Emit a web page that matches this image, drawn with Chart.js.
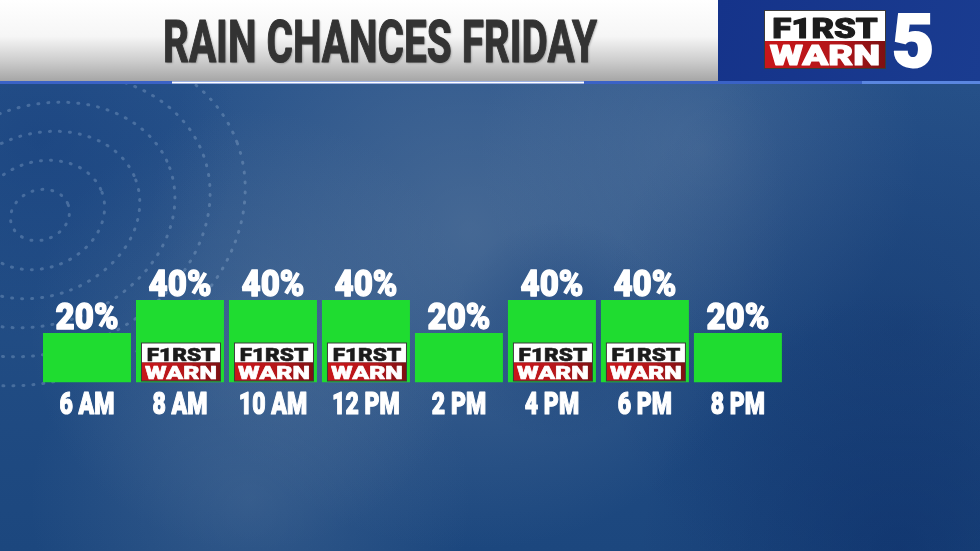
<!DOCTYPE html>
<html><head><meta charset="utf-8">
<script src="https://cdn.jsdelivr.net/npm/chart.js@4.4.0/dist/chart.umd.min.js"></script>
<style>html,body{margin:0;padding:0;background:#1e4d8c;overflow:hidden}#wrap{width:980px;height:551px;position:relative}canvas{display:block}</style>
</head><body><div id="wrap"><canvas id="c" width="980" height="551"></canvas></div>
<script>
// ---- data ----
const categories = ['6 AM', '8 AM', '10 AM', '12 PM', '2 PM', '4 PM', '6 PM', '8 PM'];
const rainChance = [20, 40, 40, 40, 20, 40, 40, 20];
const titleText = 'RAIN CHANCES FRIDAY';
const logoTop = 'F1RST';
const logoBottom = 'WARN';
const channelText = '5';
const logoMinValue = 40;

const FONT = '"Roboto", "DejaVu Sans", sans-serif';

function cText(ctx, txt, x, y, size, color, targetRef, refTxt, align, weight, stroke) {
  ctx.save();
  ctx.font = (weight || 'bold') + ' ' + size + 'px ' + FONT;
  const sx = targetRef ? targetRef / ctx.measureText(refTxt || txt).width : 1;
  ctx.translate(x, y);
  ctx.scale(sx, 1);
  ctx.textAlign = align || 'center';
  ctx.textBaseline = 'alphabetic';
  ctx.fillStyle = color;
  ctx.fillText(txt, 0, 0);
  if (stroke) {
    ctx.shadowColor = 'transparent';
    ctx.strokeStyle = color;
    ctx.lineWidth = stroke;
    ctx.lineJoin = 'round';
    ctx.strokeText(txt, 0, 0);
  }
  ctx.restore();
}

function drawLogo(ctx, x, y, w, h, big) {
  const hw = Math.round(h * 0.52);
  ctx.save();
  ctx.fillStyle = '#3a3a3a';
  ctx.fillRect(x - 1, y - 1, w + 2, h + 2);
  ctx.fillStyle = '#ffffff';
  ctx.fillRect(x, y, w, hw);
  const g = ctx.createLinearGradient(x, 0, x + w, 0);
  g.addColorStop(0, '#c8161a');
  g.addColorStop(0.6, '#b3161a');
  g.addColorStop(1, '#7e1012');
  ctx.fillStyle = g;
  ctx.fillRect(x, y + hw, w, h - hw);
  ctx.restore();
  const fs = big ? 28 : 19;
  cText(ctx, logoTop, x + w / 2, y + hw - (big ? 3 : 2), fs, '#1c1c1c', w * 0.88, logoTop, 'center', '900', big ? 1 : 0.6);
  cText(ctx, logoBottom, x + w / 2, y + h - (big ? 3 : 2), fs, '#ffffff', w * 0.92, logoBottom, 'center', '900', big ? 1 : 0.6);
}

const bgPlugin = {
  id: 'bg',
  beforeDraw(chart) {
    const ctx = chart.ctx;
    const W = chart.width, H = chart.height;
    ctx.save();
    // sky background
    let g = ctx.createLinearGradient(0, 84, 0, H);
    g.addColorStop(0, '#27528a');
    g.addColorStop(1, '#1c477e');
    ctx.fillStyle = g;
    ctx.fillRect(0, 0, W, H);
    const rad = (cx, cy, r, c0, c1) => {
      const rg = ctx.createRadialGradient(cx, cy, 0, cx, cy, r);
      rg.addColorStop(0, c0); rg.addColorStop(1, c1);
      ctx.fillStyle = rg; ctx.fillRect(0, 0, W, H);
    };
    rad(470, 230, 320, 'rgba(110,135,165,0.45)', 'rgba(110,135,165,0)');
    rad(250, 330, 220, 'rgba(110,135,165,0.3)', 'rgba(110,135,165,0)');
    rad(700, 150, 220, 'rgba(115,140,170,0.3)', 'rgba(115,140,170,0)');
    rad(250, 500, 220, 'rgba(100,130,165,0.3)', 'rgba(100,130,165,0)');
    rad(560, 330, 110, 'rgba(15,55,115,0.35)', 'rgba(15,55,115,0)');
    rad(900, 330, 300, 'rgba(10,40,95,0.3)', 'rgba(10,40,95,0)');
    rad(900, 551, 260, 'rgba(8,40,100,0.45)', 'rgba(8,40,100,0)');
    rad(40, 140, 200, 'rgba(15,55,120,0.35)', 'rgba(15,55,120,0)');
    // dotted contours
    ctx.strokeStyle = 'rgba(190,215,240,0.25)';
    ctx.lineWidth = 3;
    ctx.lineCap = 'round';
    ctx.setLineDash([1, 9]);
    for (let i = 0; i < 6; i++) {
      ctx.beginPath();
      ctx.ellipse(40, 215, 30 + i * 36, 25 + i * 28, -0.35, 0, Math.PI * 2);
      ctx.stroke();
    }
    ctx.setLineDash([]);
    // header left
    g = ctx.createLinearGradient(0, 0, 0, 81);
    g.addColorStop(0, '#ffffff');
    g.addColorStop(0.45, '#f6f6f6');
    g.addColorStop(0.75, '#cdcdcd');
    g.addColorStop(1, '#a6a6a6');
    ctx.fillStyle = g;
    ctx.fillRect(0, 0, 718, 81);
    // header right panel
    g = ctx.createLinearGradient(718, 0, 980, 81);
    g.addColorStop(0, '#15338a');
    g.addColorStop(1, '#1a3c90');
    ctx.fillStyle = g;
    ctx.fillRect(718, 0, 262, 81);
    // lines
    ctx.fillStyle = '#3a62c6';
    ctx.fillRect(0, 81, 980, 3);
    ctx.fillStyle = '#5a86e0';
    ctx.fillRect(862, 81, 118, 3);
    ctx.fillStyle = '#ffffff';
    ctx.fillRect(172, 81.5, 412, 2);
    ctx.restore();
    // title
    ctx.save();
    ctx.shadowColor = 'rgba(0,0,0,0.35)';
    ctx.shadowBlur = 2; ctx.shadowOffsetX = 1; ctx.shadowOffsetY = 1;
    cText(ctx, titleText, 380, 62, 59, '#333333', 434, titleText, 'center', 'bold', 1.2);
    ctx.restore();
    // channel logo
    drawLogo(ctx, 765, 11, 120, 57, true);
    ctx.save();
    const g5 = ctx.createLinearGradient(0, 14, 0, 67);
    g5.addColorStop(0, '#ffffff'); g5.addColorStop(1, '#cfd6e6');
    ctx.font = '900 74px ' + FONT;
    const sx5 = 42 / ctx.measureText(channelText).width;
    ctx.translate(913, 67); ctx.scale(sx5, 1);
    ctx.textAlign = 'center'; ctx.fillStyle = g5;
    ctx.fillText(channelText, 0, 0);
    ctx.strokeStyle = g5; ctx.lineWidth = 2; ctx.strokeText(channelText, 0, 0);
    ctx.restore();
  }
};

const labelPlugin = {
  id: 'labels',
  afterDatasetsDraw(chart) {
    const ctx = chart.ctx;
    const meta = chart.getDatasetMeta(0);
    const xs = chart.scales.x;
    meta.data.forEach((bar, i) => {
      const v = rainChance[i];
      cText(ctx, v + '%', bar.x, bar.y - 4, 36, '#ffffff', 63, '20%', 'center', '900', 1.3);
      if (v >= logoMinValue) {
        drawLogo(ctx, bar.x - 38, bar.base - 39, 78, 37, false);
      }
      cText(ctx, categories[i], xs.getPixelForValue(i), 414, 31, '#ffffff', 55, '6 AM', 'center', '900', 1.2);
    });
  }
};

new Chart(document.getElementById('c'), {
  type: 'bar',
  data: {
    labels: categories,
    datasets: [{
      data: rainChance,
      base: -10,
      backgroundColor: '#1fdc30',
      borderWidth: 0,
      barPercentage: 0.946,
      categoryPercentage: 1
    }]
  },
  options: {
    responsive: false,
    animation: false,
    events: [],
    layout: { padding: { left: 40.5, right: 195.6, top: 201, bottom: 168.5 } },
    scales: {
      x: { display: false },
      y: { display: false, min: -10, max: 100 }
    },
    plugins: { legend: { display: false }, tooltip: { enabled: false }, title: { display: false } }
  },
  plugins: [bgPlugin, labelPlugin]
});
</script></body></html>
